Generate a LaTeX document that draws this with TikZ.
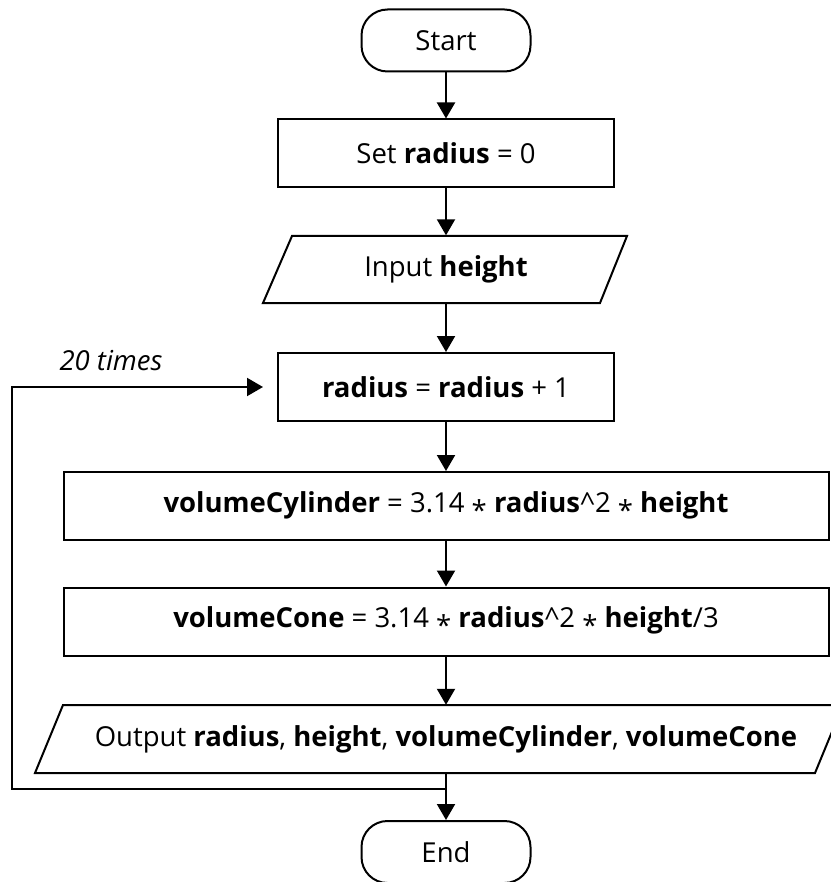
\documentclass[tikz,border=0pt]{standalone}
\usepackage{fontspec}
\setmainfont{Open Sans}
\usetikzlibrary{arrows.meta,calc}
\newcommand\mystar{\raisebox{-8pt}{*}}
\begin{document}
\begin{tikzpicture}[x=1pt,y=-1pt,
  txt/.style={font=\fontsize{27.5}{32}\selectfont, inner sep=0pt, text=black},
  box/.style={txt, draw, line width=2pt, minimum height=68pt},
  term/.style={box, rounded corners=26pt, minimum width=169pt, minimum height=62pt},
  plain/.style={txt, minimum height=68pt},
  outline/.style={draw, line width=2pt, line join=miter},
  arr/.style={line width=2pt, -{Triangle[length=16pt,width=18pt]}}
]
\useasboundingbox (0,0) rectangle (830,882);

\node[term] (start) at (446,40.5) {Start};
\node[box, minimum width=336pt] (set) at (446,153.5) {Set \textbf{radius} = 0};
\node[plain, minimum width=300pt] (inp) at (446,269.5) {Input \textbf{height}};
\draw[outline] (292,236) -- (627,236) -- (600,303) -- (263,303) -- cycle;
\node[box, minimum width=336pt] (loop) at (446,387) {\textbf{radius} = \textbf{radius} + 1};
\node[box, minimum width=765pt] (cyl) at (446,506) {\textbf{volumeCylinder} = 3.14 \mystar\ \textbf{radius}\textasciicircum2 \mystar\ \textbf{height}};
\node[box, minimum width=765pt] (cone) at (446,621.5) {\textbf{volumeCone} = 3.14 \mystar\ \textbf{radius}\textasciicircum2 \mystar\ \textbf{height}/3};
\node[plain, minimum width=720pt] (out) at (446,739) {Output \textbf{radius}, \textbf{height}, \textbf{volumeCylinder}, \textbf{volumeCone}};
\draw[outline] (63,705) -- (843,705) -- (815,773) -- (35,773) -- cycle;
\node[term] (end) at (446,852) {End};

\node[txt, font=\fontsize{27.5}{32}\selectfont\itshape] (lbl) at (111,361) {20 times};

\draw[arr] (start.south) -- (set.north);
\draw[arr] (set.south) -- (inp.north);
\draw[arr] (inp.south) -- (loop.north);
\draw[arr] (loop.south) -- (cyl.north);
\draw[arr] (cyl.south) -- (cone.north);
\draw[arr] (cone.south) -- (out.north);
\draw[arr] (out.south) -- (end.north);

\coordinate (jn) at (446,789);
\coordinate (lft) at (12,789);
\coordinate (tip) at (263,387);
\draw[arr] (jn) -- (lft) |- (tip);
\end{tikzpicture}
\end{document}
